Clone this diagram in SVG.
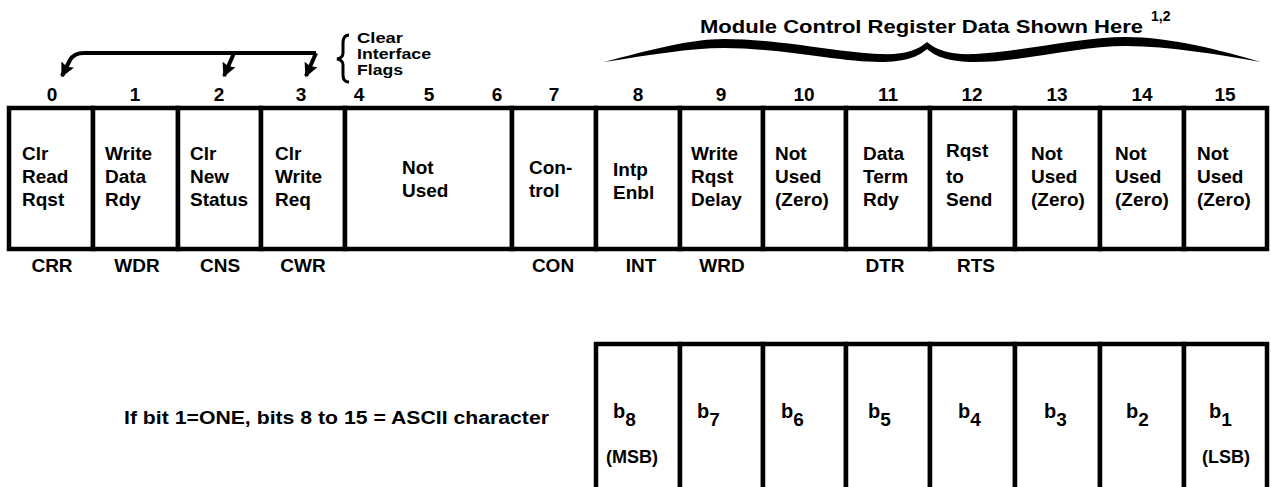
<svg xmlns="http://www.w3.org/2000/svg" width="1271" height="487" viewBox="0 0 1271 487">
<defs>
<style>
text{font-family:"Liberation Sans",Arial,sans-serif;font-weight:bold;fill:#000}
.lbl{font-size:19px}
.num{font-size:19px;text-anchor:middle}
.abr{font-size:19px;text-anchor:middle}
.sm{font-size:14px}
.bb{font-size:20px}
.sub{font-size:19px}
.par{font-size:18px;text-anchor:middle}
.cell{fill:#fff;stroke:#000;stroke-width:4.5}
.con{fill:none;stroke:#000;stroke-width:4;stroke-linejoin:round}
</style>
<marker id="ah" viewBox="0 0 10 10" refX="9" refY="5" markerUnits="userSpaceOnUse" markerWidth="20" markerHeight="14" orient="auto">
<path d="M0,0 L10,5 L0,10 L1.5,5 z" fill="#000"/>
</marker>
</defs>
<rect width="1271" height="487" fill="#fff"/>

<g id="title">
<text x="700" y="33" style="font-size:18px" textLength="443" lengthAdjust="spacingAndGlyphs">Module Control Register Data Shown Here</text>
<text x="1151" y="21" class="sm">1,2</text>
<path d="M604,62 C650,50 690,39 724,39 C780,39 840,53 880,54 C905,55 918,50 927,42 C936,50 950,55 975,54 C1020,52 1080,37 1126,37 C1170,37 1220,50 1261,62 C1220,55 1170,46 1126,46 C1080,46 1020,62 975,62 C950,62 936,57 927,49 C918,57 905,62 880,62 C840,62 780,48 724,48 C690,48 650,55 604,62 Z" fill="#000"/>
</g>

<g id="clear-flags">
<path d="M349,35 Q343,35 343,43 L343,53 Q343,58 337,59 Q343,60 343,65 L343,75 Q343,82 349,82" fill="none" stroke="#000" stroke-width="3"/>
<text x="357" y="43" class="sm" textLength="46" lengthAdjust="spacingAndGlyphs">Clear</text>
<text x="357" y="59" class="sm" textLength="74" lengthAdjust="spacingAndGlyphs">Interface</text>
<text x="357" y="75" class="sm" textLength="46" lengthAdjust="spacingAndGlyphs">Flags</text>
</g>

<g id="connectors">
<path class="con" d="M316,53 L84,53 Q74,53 70,60 L62,76" marker-end="url(#ah)"/>
<path class="con" d="M234,53 L224,76" marker-end="url(#ah)"/>
<path class="con" d="M316,53 L306,76" marker-end="url(#ah)"/>
</g>

<g id="bit0">
<rect class="cell" x="9" y="108" width="84" height="141"/>
<text class="num" x="52" y="101">0</text>
<text class="lbl" x="22" y="160">Clr</text><text class="lbl" x="22" y="183">Read</text><text class="lbl" x="22" y="206">Rqst</text>
<text class="abr" x="52" y="272">CRR</text>
</g>
<g id="bit1">
<rect class="cell" x="93" y="108" width="85" height="141"/>
<text class="num" x="135" y="101">1</text>
<text class="lbl" x="105" y="160">Write</text><text class="lbl" x="105" y="183">Data</text><text class="lbl" x="105" y="206">Rdy</text>
<text class="abr" x="137" y="272">WDR</text>
</g>
<g id="bit2">
<rect class="cell" x="178" y="108" width="83" height="141"/>
<text class="num" x="219" y="101">2</text>
<text class="lbl" x="190" y="160">Clr</text><text class="lbl" x="190" y="183">New</text><text class="lbl" x="190" y="206">Status</text>
<text class="abr" x="220" y="272">CNS</text>
</g>
<g id="bit3">
<rect class="cell" x="261" y="108" width="84" height="141"/>
<text class="num" x="301" y="101">3</text>
<text class="lbl" x="275" y="160">Clr</text><text class="lbl" x="275" y="183">Write</text><text class="lbl" x="275" y="206">Req</text>
<text class="abr" x="303" y="272">CWR</text>
</g>
<g id="bit4-6">
<rect class="cell" x="345" y="108" width="167" height="141"/>
<text class="num" x="359" y="101">4</text>
<text class="num" x="429" y="101">5</text>
<text class="num" x="497" y="101">6</text>
<text class="lbl" x="402" y="174">Not</text><text class="lbl" x="402" y="197">Used</text>
</g>
<g id="bit7">
<rect class="cell" x="512" y="108" width="84" height="141"/>
<text class="num" x="554" y="101">7</text>
<text class="lbl" x="529" y="174">Con-</text><text class="lbl" x="529" y="197">trol</text>
<text class="abr" x="553" y="272">CON</text>
</g>
<g id="bit8">
<rect class="cell" x="596" y="108" width="84" height="141"/>
<text class="num" x="638" y="101">8</text>
<text class="lbl" x="613" y="176">Intp</text><text class="lbl" x="613" y="199">Enbl</text>
<text class="abr" x="641" y="272">INT</text>
</g>
<g id="bit9">
<rect class="cell" x="680" y="108" width="83" height="141"/>
<text class="num" x="721" y="101">9</text>
<text class="lbl" x="691" y="160">Write</text><text class="lbl" x="691" y="183">Rqst</text><text class="lbl" x="691" y="206">Delay</text>
<text class="abr" x="722" y="272">WRD</text>
</g>
<g id="bit10">
<rect class="cell" x="763" y="108" width="83" height="141"/>
<text class="num" x="804" y="101">10</text>
<text class="lbl" x="775" y="160">Not</text><text class="lbl" x="775" y="183">Used</text><text class="lbl" x="775" y="206">(Zero)</text>
</g>
<g id="bit11">
<rect class="cell" x="846" y="108" width="84" height="141"/>
<text class="num" x="888" y="101">11</text>
<text class="lbl" x="863" y="160">Data</text><text class="lbl" x="863" y="183">Term</text><text class="lbl" x="863" y="206">Rdy</text>
<text class="abr" x="885" y="272">DTR</text>
</g>
<g id="bit12">
<rect class="cell" x="930" y="108" width="85" height="141"/>
<text class="num" x="972" y="101">12</text>
<text class="lbl" x="946" y="157">Rqst</text><text class="lbl" x="946" y="183">to</text><text class="lbl" x="946" y="206">Send</text>
<text class="abr" x="976" y="272">RTS</text>
</g>
<g id="bit13">
<rect class="cell" x="1015" y="108" width="85" height="141"/>
<text class="num" x="1057" y="101">13</text>
<text class="lbl" x="1031" y="160">Not</text><text class="lbl" x="1031" y="183">Used</text><text class="lbl" x="1031" y="206">(Zero)</text>
</g>
<g id="bit14">
<rect class="cell" x="1100" y="108" width="84" height="141"/>
<text class="num" x="1142" y="101">14</text>
<text class="lbl" x="1115" y="160">Not</text><text class="lbl" x="1115" y="183">Used</text><text class="lbl" x="1115" y="206">(Zero)</text>
</g>
<g id="bit15">
<rect class="cell" x="1184" y="108" width="83" height="141"/>
<text class="num" x="1225" y="101">15</text>
<text class="lbl" x="1197" y="160">Not</text><text class="lbl" x="1197" y="183">Used</text><text class="lbl" x="1197" y="206">(Zero)</text>
</g>

<g id="ascii-note">
<text x="124" y="424" style="font-size:18px" textLength="425" lengthAdjust="spacingAndGlyphs">If bit 1=ONE, bits 8 to 15 = ASCII character</text>
</g>

<g id="b8">
<rect class="cell" x="596" y="344" width="84" height="160"/>
<text class="bb" x="613" y="418">b<tspan class="sub" dy="8">8</tspan></text>
<text class="par" x="632" y="463">(MSB)</text>
</g>
<g id="b7">
<rect class="cell" x="680" y="344" width="83" height="160"/>
<text class="bb" x="697" y="418">b<tspan class="sub" dy="8">7</tspan></text>
</g>
<g id="b6">
<rect class="cell" x="763" y="344" width="83" height="160"/>
<text class="bb" x="781" y="418">b<tspan class="sub" dy="8">6</tspan></text>
</g>
<g id="b5">
<rect class="cell" x="846" y="344" width="84" height="160"/>
<text class="bb" x="868" y="418">b<tspan class="sub" dy="8">5</tspan></text>
</g>
<g id="b4">
<rect class="cell" x="930" y="344" width="85" height="160"/>
<text class="bb" x="958" y="418">b<tspan class="sub" dy="8">4</tspan></text>
</g>
<g id="b3">
<rect class="cell" x="1015" y="344" width="85" height="160"/>
<text class="bb" x="1044" y="418">b<tspan class="sub" dy="8">3</tspan></text>
</g>
<g id="b2">
<rect class="cell" x="1100" y="344" width="84" height="160"/>
<text class="bb" x="1126" y="418">b<tspan class="sub" dy="8">2</tspan></text>
</g>
<g id="b1">
<rect class="cell" x="1184" y="344" width="83" height="160"/>
<text class="bb" x="1209" y="418">b<tspan class="sub" dy="8">1</tspan></text>
<text class="par" x="1226" y="463">(LSB)</text>
</g>
</svg>
